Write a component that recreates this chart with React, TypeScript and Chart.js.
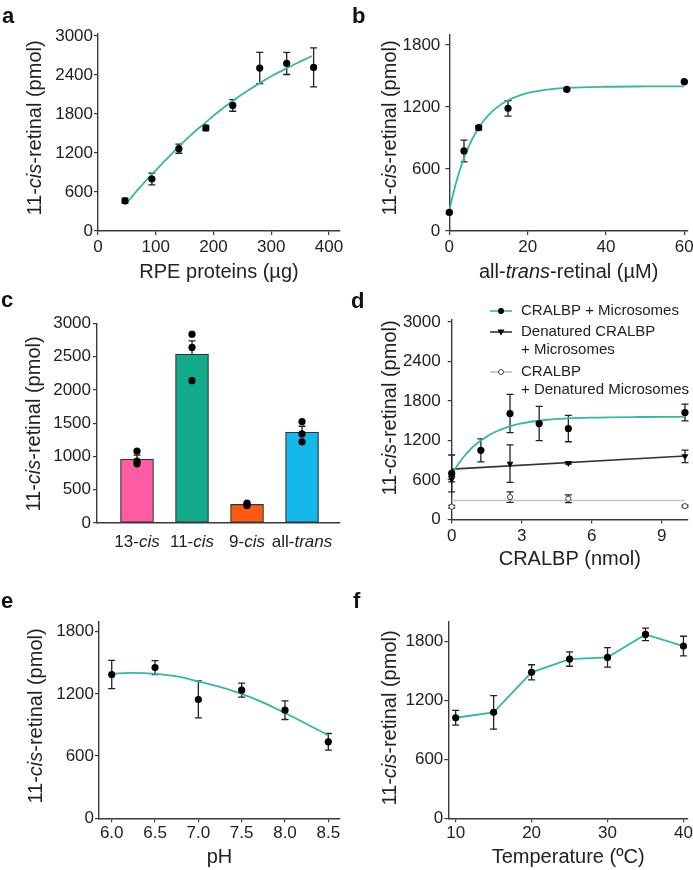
import React, { useEffect, useRef } from "react";
import { Chart, registerables } from "chart.js";
Chart.register(...registerables);

const W = 693;
const H = 870;
const FONT = "'Liberation Sans', Arial, Helvetica, sans-serif";
const TEAL = "#33b8a6";
const INK = "#222222";
const AXIS = "#3a3a3a";

// ---------- Panel a ----------
const aX = [46.7, 93.3, 140, 186.7, 233.3, 280, 326.7, 373.3];
const aY = [465, 800, 1266, 1586, 1932, 2507, 2578, 2517];
const aErr = [40, 90, 70, 40, 90, 240, 170, 300];
const aFitX = [48, 70, 93, 117, 140, 163, 187, 210, 233, 257, 280, 303, 327, 350, 370];
const aFitY = [412, 645, 870, 1090, 1300, 1495, 1675, 1845, 2000, 2145, 2275, 2395, 2505, 2605, 2690];
const aXTicks = [0, 100, 200, 300, 400];
const aYTicks = [0, 600, 1200, 1800, 2400, 3000];

// ---------- Panel b ----------
const bX = [0, 3.75, 7.5, 15, 30, 60];
const bY = [180, 775, 1000, 1187, 1371, 1445];
const bErr = [12, 105, 20, 75, 15, 10];
const bFitX = [0, 1, 2, 3, 4, 5, 6, 8, 10, 12, 15, 18, 21, 25, 30, 40, 50, 60];
const bFitY = [200, 363, 504, 626, 731, 822, 900, 1027, 1121, 1192, 1266, 1313, 1344, 1369, 1385, 1396, 1399, 1400];
const bXTicks = [0, 20, 40, 60];
const bYTicks = [0, 600, 1200, 1800];

// ---------- Panel c ----------
const cCategories = [
  [{ t: "13-" }, { t: "cis", i: true }],
  [{ t: "11-" }, { t: "cis", i: true }],
  [{ t: "9-" }, { t: "cis", i: true }],
  [{ t: "all-" }, { t: "trans", i: true }],
];
const cMeans = [960, 2540, 280, 1365];
const cErr = [60, 200, 15, 90];
const cDots = [
  [1080, 930, 890],
  [2840, 2640, 2140],
  [300, 275, 265],
  [1525, 1340, 1220],
];
const cColors = ["#ff5ca6", "#14ab8d", "#ff5a14", "#14b9ea"];
const cYTicks = [0, 500, 1000, 1500, 2000, 2500, 3000];

// ---------- Panel d ----------
const dCircX = [0, 1.25, 2.5, 3.75, 5, 10];
const dCircY = [700, 1051, 1610, 1457, 1381, 1625];
const dCircErr = [280, 175, 290, 260, 200, 127];
const dFitX = [0, 0.25, 0.5, 0.75, 1, 1.5, 2, 2.5, 3, 4, 5, 6, 8, 10];
const dFitY = [680, 825, 946, 1047, 1131, 1261, 1351, 1415, 1459, 1511, 1536, 1548, 1557, 1560];
const dTriX = [0, 2.5, 5, 10];
const dTriY = [612, 848, 858, 960];
const dTriErr = [40, 285, 15, 95];
const dLinX = [0, 10];
const dLinY = [765, 965];
const dOpenX = [0, 2.5, 5, 10];
const dOpenY = [195, 340, 315, 203];
const dOpenErr = [20, 80, 60, 15];
const dFlatX = [0, 10];
const dFlatY = [288, 288];
const dXTicks = [0, 3, 6, 9];
const dYTicks = [0, 600, 1200, 1800, 2400, 3000];
const dLegend = [
  ["CRALBP + Microsomes"],
  ["Denatured CRALBP", "+ Microsomes"],
  ["CRALBP", "+ Denatured Microsomes"],
];

// ---------- Panel e ----------
const eX = [6.0, 6.5, 7.0, 7.5, 8.0, 8.5];
const eY = [1387, 1454, 1146, 1236, 1043, 738];
const eErr = [137, 67, 178, 68, 90, 80];
const eFitX = [6.0, 6.25, 6.5, 6.75, 7.0, 7.25, 7.5, 7.75, 8.0, 8.25, 8.5];
const eFitY = [1395, 1402, 1393, 1368, 1320, 1268, 1200, 1115, 1015, 910, 800];
const eXTicks = [6.0, 6.5, 7.0, 7.5, 8.0, 8.5];
const eXTickLabels = ["6.0", "6.5", "7.0", "7.5", "8.0", "8.5"];
const eYTicks = [0, 600, 1200, 1800];

// ---------- Panel f ----------
const fX = [10, 15, 20, 25, 30, 35, 40];
const fY = [1023, 1078, 1485, 1620, 1637, 1871, 1752];
const fErr = [75, 170, 77, 73, 100, 63, 100];
const fXTicks = [10, 20, 30, 40];
const fYTicks = [0, 600, 1200, 1800];

type Seg = { t: string; i?: boolean };
const Y_TITLE: Seg[] = [{ t: "11-" }, { t: "cis", i: true }, { t: "-retinal (pmol)" }];

const pts = (xs: number[], ys: number[]) => xs.map((x, i) => ({ x, y: ys[i] }));

function drawRich(ctx: CanvasRenderingContext2D, segs: Seg[], cx: number, cy: number, size: number) {
  const fontOf = (s: Seg) => `${s.i ? "italic " : ""}${size}px ${FONT}`;
  let total = 0;
  const widths = segs.map((s) => {
    ctx.font = fontOf(s);
    const w = ctx.measureText(s.t).width;
    total += w;
    return w;
  });
  let x = cx - total / 2;
  ctx.textAlign = "left";
  ctx.textBaseline = "middle";
  segs.forEach((s, k) => {
    ctx.font = fontOf(s);
    ctx.fillText(s.t, x, cy);
    x += widths[k];
  });
}

interface Spec {
  area: [number, number, number, number];
  xMin: number;
  xMax: number;
  yMax: number;
  xTicks?: number[];
  xTickLabels?: string[];
  yTicks: number[];
  yPad: number;
  xPad: number;
  letter: string;
  letterPos: [number, number];
  xTitle?: Seg[];
  xTitleY?: number;
  yTitleX: number;
  yTitleY: number;
  extra?: (chart: any) => void;
}

function makePlugin(spec: Spec) {
  return {
    id: "decor" + spec.letter,
    beforeDatasetsDraw(chart: any) {
      const ctx = chart.ctx as CanvasRenderingContext2D;
      const ys = chart.scales.y;
      chart.data.datasets.forEach((ds: any, i: number) => {
        if (!ds.errors) return;
        const meta = chart.getDatasetMeta(i);
        ctx.save();
        ctx.strokeStyle = INK;
        ctx.lineWidth = 1.3;
        meta.data.forEach((el: any, j: number) => {
          const raw = ds.data[j];
          const v = typeof raw === "number" ? raw : raw.y;
          const e = ds.errors[j];
          const x = el.x;
          const top = ys.getPixelForValue(v + e);
          const bot = ys.getPixelForValue(ds.errUpOnly ? v : v - e);
          ctx.beginPath();
          ctx.moveTo(x, top);
          ctx.lineTo(x, bot);
          ctx.moveTo(x - 3.5, top);
          ctx.lineTo(x + 3.5, top);
          if (!ds.errUpOnly) {
            ctx.moveTo(x - 3.5, bot);
            ctx.lineTo(x + 3.5, bot);
          }
          ctx.stroke();
        });
        ctx.restore();
      });
    },
    afterDraw(chart: any) {
      const ctx = chart.ctx as CanvasRenderingContext2D;
      const { area } = spec;
      ctx.save();
      ctx.fillStyle = "#111";
      ctx.font = `bold 22px ${FONT}`;
      ctx.textAlign = "left";
      ctx.textBaseline = "alphabetic";
      ctx.fillText(spec.letter, spec.letterPos[0], spec.letterPos[1]);
      ctx.fillStyle = INK;
      if (spec.xTitle) drawRich(ctx, spec.xTitle, (area[0] + area[2]) / 2, spec.xTitleY!, 20);
      ctx.save();
      ctx.translate(spec.yTitleX, spec.yTitleY);
      ctx.rotate(-Math.PI / 2);
      drawRich(ctx, Y_TITLE, 0, 0, 20);
      ctx.restore();
      if (spec.extra) spec.extra(chart);
      ctx.restore();
    },
  };
}

function baseOptions(spec: Spec) {
  const [l, t, r, b] = spec.area;
  const YW = 60;
  const XH = 40;
  return {
    responsive: false,
    animation: false,
    devicePixelRatio: 1,
    layout: {
      autoPadding: false,
      padding: { left: l - YW, top: t, right: W - r, bottom: H - b - XH },
    },
    plugins: { legend: { display: false }, tooltip: { enabled: false } },
    scales: {
      x: {
        type: "linear",
        min: spec.xMin,
        max: spec.xMax,
        offset: false,
        afterFit: (s: any) => {
          s.height = XH;
          s.paddingLeft = 0;
          s.paddingRight = 0;
        },
        afterBuildTicks: (s: any) => {
          if (spec.xTicks) s.ticks = spec.xTicks.map((v) => ({ value: v }));
        },
        ticks: {
          display: !!spec.xTicks,
          color: INK,
          font: { family: FONT, size: 17 },
          padding: spec.xPad,
          autoSkip: false,
          maxRotation: 0,
          callback: (v: number) => {
            if (!spec.xTicks) return "";
            const k = spec.xTicks.indexOf(v);
            return spec.xTickLabels ? spec.xTickLabels[k] : String(v);
          },
        },
        grid: {
          drawOnChartArea: false,
          drawTicks: !!spec.xTicks,
          tickLength: 4,
          color: AXIS,
          lineWidth: 1.2,
        },
        border: { color: AXIS, width: 1.4 },
      },
      y: {
        type: "linear",
        min: 0,
        max: spec.yMax,
        afterFit: (s: any) => {
          s.width = YW;
          s.paddingTop = 0;
          s.paddingBottom = 0;
        },
        afterBuildTicks: (s: any) => {
          s.ticks = spec.yTicks.map((v) => ({ value: v }));
        },
        ticks: {
          color: INK,
          font: { family: FONT, size: 17 },
          padding: spec.yPad,
          autoSkip: false,
          callback: (v: number) => String(v),
        },
        grid: { drawOnChartArea: false, tickLength: 4, color: AXIS, lineWidth: 1.2 },
        border: { color: AXIS, width: 1.4 },
      },
    },
  };
}

const pointDs = (xs: number[], ys: number[], errs: number[]) => ({
  type: "line",
  data: pts(xs, ys),
  errors: errs,
  showLine: false,
  pointRadius: 3.6,
  pointBackgroundColor: "#000",
  pointBorderColor: "#000",
  pointBorderWidth: 0,
  clip: false,
});

const fitDs = (xs: number[], ys: number[], color = TEAL, width = 1.8, smooth = true) => ({
  type: "line",
  data: pts(xs, ys),
  borderColor: color,
  borderWidth: width,
  pointRadius: 0,
  tension: smooth ? 0.4 : 0,
  cubicInterpolationMode: smooth ? "monotone" : "default",
  fill: false,
  clip: false,
});

function cfgA() {
  const spec: Spec = {
    area: [98, 33.4, 340, 231],
    xMin: 0, xMax: 419, yMax: 3040,
    xTicks: aXTicks, yTicks: aYTicks, yPad: 1, xPad: 2,
    letter: "a", letterPos: [2, 23],
    xTitle: [{ t: "RPE proteins (µg)" }], xTitleY: 272,
    yTitleX: 35, yTitleY: 128,
  };
  return {
    type: "line",
    data: { datasets: [pointDs(aX, aY, aErr), fitDs(aFitX, aFitY)] },
    options: baseOptions(spec),
    plugins: [makePlugin(spec)],
  };
}

function cfgB() {
  const spec: Spec = {
    area: [449.3, 34.7, 688, 231],
    xMin: 0, xMax: 60.94, yMax: 1900,
    xTicks: bXTicks, yTicks: bYTicks, yPad: 5, xPad: 2,
    letter: "b", letterPos: [352, 23],
    xTitle: [{ t: "all-" }, { t: "trans", i: true }, { t: "-retinal (µM)" }], xTitleY: 272,
    yTitleX: 390, yTitleY: 128,
  };
  return {
    type: "line",
    data: { datasets: [pointDs(bX, bY, bErr), fitDs(bFitX, bFitY)] },
    options: baseOptions(spec),
    plugins: [makePlugin(spec)],
  };
}

function cfgC() {
  const spec: Spec = {
    area: [97, 323.5, 340, 523],
    xMin: -0.727, xMax: 3.69, yMax: 3000,
    yTicks: cYTicks, yPad: 2, xPad: 2,
    letter: "c", letterPos: [1, 307],
    yTitleX: 34, yTitleY: 424,
    extra: (chart: any) => {
      const ctx = chart.ctx as CanvasRenderingContext2D;
      const xs = chart.scales.x;
      ctx.fillStyle = INK;
      cCategories.forEach((segs, i) => drawRich(ctx, segs as Seg[], xs.getPixelForValue(i), 542, 17));
    },
  };
  const dotX: number[] = [];
  const dotY: number[] = [];
  cDots.forEach((arr, i) => arr.forEach((v) => { dotX.push(i); dotY.push(v); }));
  return {
    type: "bar",
    data: {
      datasets: [
        {
          type: "line",
          data: pts(dotX, dotY),
          showLine: false,
          pointRadius: 3.6,
          pointBackgroundColor: "#000",
          pointBorderWidth: 0,
          clip: false,
        },
        {
          type: "bar",
          data: pts([0, 1, 2, 3], cMeans),
          errors: cErr,
          errUpOnly: true,
          backgroundColor: cColors,
          borderColor: "#333",
          borderWidth: 1.2,
          borderSkipped: false,
          barThickness: 33,
        },
      ],
    },
    options: baseOptions(spec),
    plugins: [makePlugin(spec)],
  };
}

function drawLegendD(chart: any) {
  const ctx = chart.ctx as CanvasRenderingContext2D;
  const x0 = 490, x1 = 512, mx = 501, tx = 521;
  const rows = [311, 332, 372];
  const colors = [TEAL, "#333", "#bbbbbb"];
  rows.forEach((y, k) => {
    ctx.strokeStyle = colors[k];
    ctx.lineWidth = 1.6;
    ctx.beginPath();
    ctx.moveTo(x0, y);
    ctx.lineTo(x1, y);
    ctx.stroke();
    if (k === 0) {
      ctx.fillStyle = "#000";
      ctx.beginPath();
      ctx.arc(mx, y, 3, 0, Math.PI * 2);
      ctx.fill();
    } else if (k === 1) {
      ctx.fillStyle = "#000";
      ctx.beginPath();
      ctx.moveTo(mx - 3.5, y - 2.5);
      ctx.lineTo(mx + 3.5, y - 2.5);
      ctx.lineTo(mx, y + 3.5);
      ctx.closePath();
      ctx.fill();
    } else {
      ctx.fillStyle = "#fff";
      ctx.strokeStyle = "#444";
      ctx.lineWidth = 1;
      ctx.beginPath();
      ctx.arc(mx, y, 2.5, 0, Math.PI * 2);
      ctx.fill();
      ctx.stroke();
    }
    ctx.fillStyle = INK;
    ctx.font = `15px ${FONT}`;
    ctx.textAlign = "left";
    ctx.textBaseline = "middle";
    dLegend[k].forEach((line, n) => ctx.fillText(line, tx, y + n * 18));
  });
}

function cfgD() {
  const spec: Spec = {
    area: [451.7, 320, 688, 519.5],
    xMin: 0, xMax: 10.13, yMax: 3030,
    xTicks: dXTicks, yTicks: dYTicks, yPad: 7, xPad: 3,
    letter: "d", letterPos: [351, 308],
    xTitle: [{ t: "CRALBP (nmol)" }], xTitleY: 559,
    yTitleX: 390, yTitleY: 408,
    extra: drawLegendD,
  };
  return {
    type: "line",
    data: {
      datasets: [
        pointDs(dCircX, dCircY, dCircErr),
        {
          ...pointDs(dTriX, dTriY, dTriErr),
          pointStyle: "triangle",
          rotation: 180,
          pointRadius: 4,
        },
        {
          ...pointDs(dOpenX, dOpenY, dOpenErr),
          pointRadius: 2.6,
          pointBackgroundColor: "#fff",
          pointBorderColor: "#444",
          pointBorderWidth: 1,
        },
        fitDs(dFitX, dFitY),
        fitDs(dLinX, dLinY, "#333", 1.6, false),
        fitDs(dFlatX, dFlatY, "#c4c4c4", 1.6, false),
      ],
    },
    options: baseOptions(spec),
    plugins: [makePlugin(spec)],
  };
}

function cfgE() {
  const spec: Spec = {
    area: [99, 621.3, 340, 818.3],
    xMin: 5.853, xMax: 8.635, yMax: 1900,
    xTicks: eXTicks, xTickLabels: eXTickLabels, yTicks: eYTicks, yPad: 1, xPad: 1,
    letter: "e", letterPos: [1, 608],
    xTitle: [{ t: "pH" }], xTitleY: 857,
    yTitleX: 36, yTitleY: 716,
  };
  return {
    type: "line",
    data: { datasets: [pointDs(eX, eY, eErr), fitDs(eFitX, eFitY)] },
    options: baseOptions(spec),
    plugins: [makePlugin(spec)],
  };
}

function cfgF() {
  const spec: Spec = {
    area: [448.3, 621.7, 688, 818.3],
    xMin: 9.03, xMax: 40.6, yMax: 2000,
    xTicks: fXTicks, yTicks: fYTicks, yPad: 1, xPad: 1,
    letter: "f", letterPos: [353, 608],
    xTitle: [{ t: "Temperature (ºC)" }], xTitleY: 857,
    yTitleX: 390, yTitleY: 718,
  };
  return {
    type: "line",
    data: {
      datasets: [
        {
          ...pointDs(fX, fY, fErr),
          showLine: true,
          borderColor: TEAL,
          borderWidth: 1.8,
          tension: 0,
        },
      ],
    },
    options: baseOptions(spec),
    plugins: [makePlugin(spec)],
  };
}

function Panel({ make }: { make: () => any }) {
  const ref = useRef<HTMLCanvasElement>(null);
  useEffect(() => {
    const chart = new Chart(ref.current as HTMLCanvasElement, make());
    return () => chart.destroy();
  }, []);
  return (
    <canvas
      ref={ref}
      width={W}
      height={H}
      style={{ position: "absolute", left: 0, top: 0, width: W, height: H, pointerEvents: "none" }}
    />
  );
}

export default function App() {
  return (
    <div style={{ position: "absolute", left: 0, top: 0, width: W, height: H, background: "#fff", overflow: "hidden" }}>
      <Panel make={cfgA} />
      <Panel make={cfgB} />
      <Panel make={cfgC} />
      <Panel make={cfgD} />
      <Panel make={cfgE} />
      <Panel make={cfgF} />
    </div>
  );
}
